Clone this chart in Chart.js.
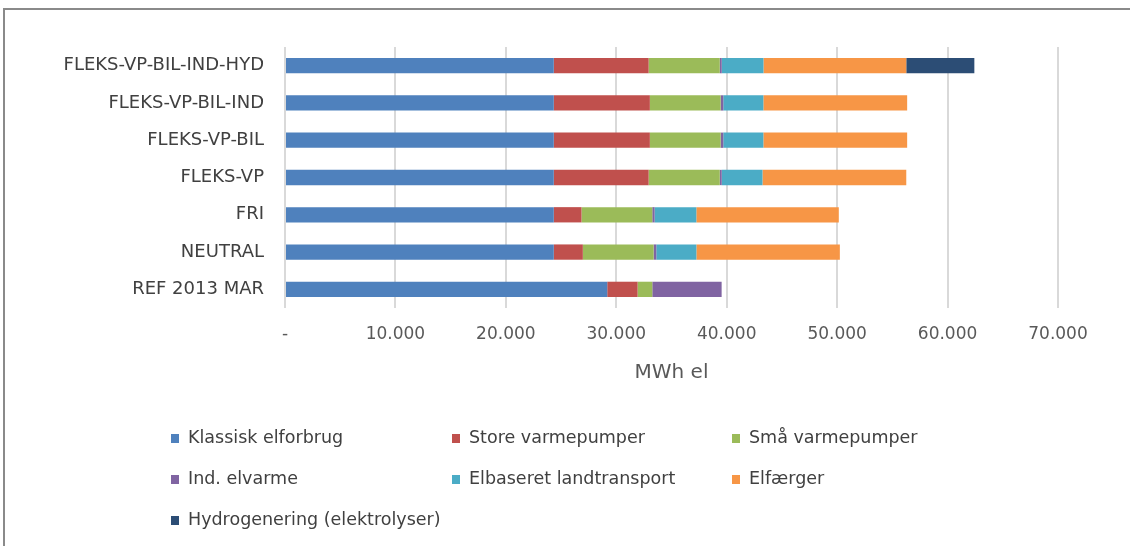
<!DOCTYPE html>
<html>
<head>
<meta charset="utf-8">
<script src="https://cdn.jsdelivr.net/npm/chart.js@4"></script>
<style>
html,body{margin:0;padding:0;background:#fff;}
#wrap{position:relative;width:1130px;height:546px;overflow:hidden;}
#frame{position:absolute;left:3px;top:8px;width:1200px;height:700px;border-top:2px solid #8a8a8a;border-left:2px solid #8a8a8a;box-sizing:border-box;}
canvas{position:absolute;left:0;top:0;}
#legend{position:absolute;left:0;top:0;width:1130px;height:546px;pointer-events:none;font-family:"DejaVu Sans",sans-serif;font-size:17.5px;color:#404040;}
.li{position:absolute;white-space:nowrap;line-height:20px;}
.li span.b{display:inline-block;width:8px;height:9px;margin-right:9px;vertical-align:0px;}
</style>
</head>
<body>
<div id="wrap">
<div id="frame"></div>
<canvas id="c" width="1130" height="546"></canvas>
<div id="legend"></div>
</div>
<script>
const categories = ["FLEKS-VP-BIL-IND-HYD","FLEKS-VP-BIL-IND","FLEKS-VP-BIL","FLEKS-VP","FRI","NEUTRAL","REF 2013 MAR"];
const seriesNames = ["Klassisk elforbrug","Store varmepumper","Små varmepumper","Ind. elvarme","Elbaseret landtransport","Elfærger","Hydrogenering (elektrolyser)"];
const seriesColors = ["#4F81BD","#C0504D","#9BBB59","#8064A2","#4BACC6","#F79646","#2C4D75"];
const klassisk   = [24340, 24340, 24340, 24340, 24340, 24340, 29180];
const storeVP    = [ 8590,  8700,  8700,  8590,  2510,  2630,  2750];
const smaaVP     = [ 6440,  6410,  6410,  6440,  6410,  6410,  1330];
const indElvarme = [  180,   240,   240,   180,   210,   245,  6280];
const landtransp = [ 3780,  3630,  3630,  3690,  3780,  3630,     0];
const elfaerger  = [12930, 13020, 13020, 13020, 12900, 12990,     0];
const hydrogen   = [ 6165,     0,     0,     0,     0,     0,     0];
const xTicks = [0,10000,20000,30000,40000,50000,60000,70000];
const xTitle = "MWh el";

const seriesData = [klassisk, storeVP, smaaVP, indElvarme, landtransp, elfaerger, hydrogen];

const fmt = v => v === 0 ? "-" : v.toString().replace(/\B(?=(\d{3})+(?!\d))/g, ".");

new Chart(document.getElementById("c"), {
  type: "bar",
  data: {
    labels: categories,
    datasets: seriesNames.map((n,i)=>({
      label: n, data: seriesData[i], backgroundColor: seriesColors[i],
      borderWidth: 0, barPercentage: 0.41, categoryPercentage: 1.0
    }))
  },
  options: {
    indexAxis: "y",
    responsive: false,
    animation: false,
    devicePixelRatio: 1,
    layout: { padding: { left: 0, top: 47, right: 72, bottom: 148 } },
    plugins: { legend: { display: false }, tooltip: { enabled: false } },
    scales: {
      x: {
        stacked: true, min: 0, max: 70000,
        afterBuildTicks: s => { s.ticks = xTicks.map(v => ({ value: v })); },
        afterFit: s => { s.height = 90; },
        grid: { color: "#d9d9d9", lineWidth: 2, drawTicks: false },
        border: { display: false },
        ticks: { callback: v => fmt(v), color: "#595959", padding: 16,
                 font: { family: "DejaVu Sans", size: 17 } },
        title: { display: true, text: xTitle, color: "#595959", padding: { top: 0, bottom: 13 },
                 font: { family: "DejaVu Sans", size: 20 } }
      },
      y: {
        stacked: true,
        afterFit: s => { s.width = 285; },
        grid: { display: false, drawTicks: false },
        border: { display: false },
        ticks: { color: "#404040", padding: 21, font: { family: "DejaVu Sans", size: 18 } }
      }
    }
  }
});

const legendPos = [[171,437],[452,437],[732,437],[171,478],[452,478],[732,478],[171,519]];
const lg = document.getElementById("legend");
seriesNames.forEach((n,i)=>{
  const d = document.createElement("div");
  d.className = "li";
  d.style.left = legendPos[i][0] + "px";
  d.style.top = (legendPos[i][1] - 10) + "px";
  d.innerHTML = '<span class="b" style="background:' + seriesColors[i] + '"></span>' + n;
  lg.appendChild(d);
});
</script>
</body>
</html>
